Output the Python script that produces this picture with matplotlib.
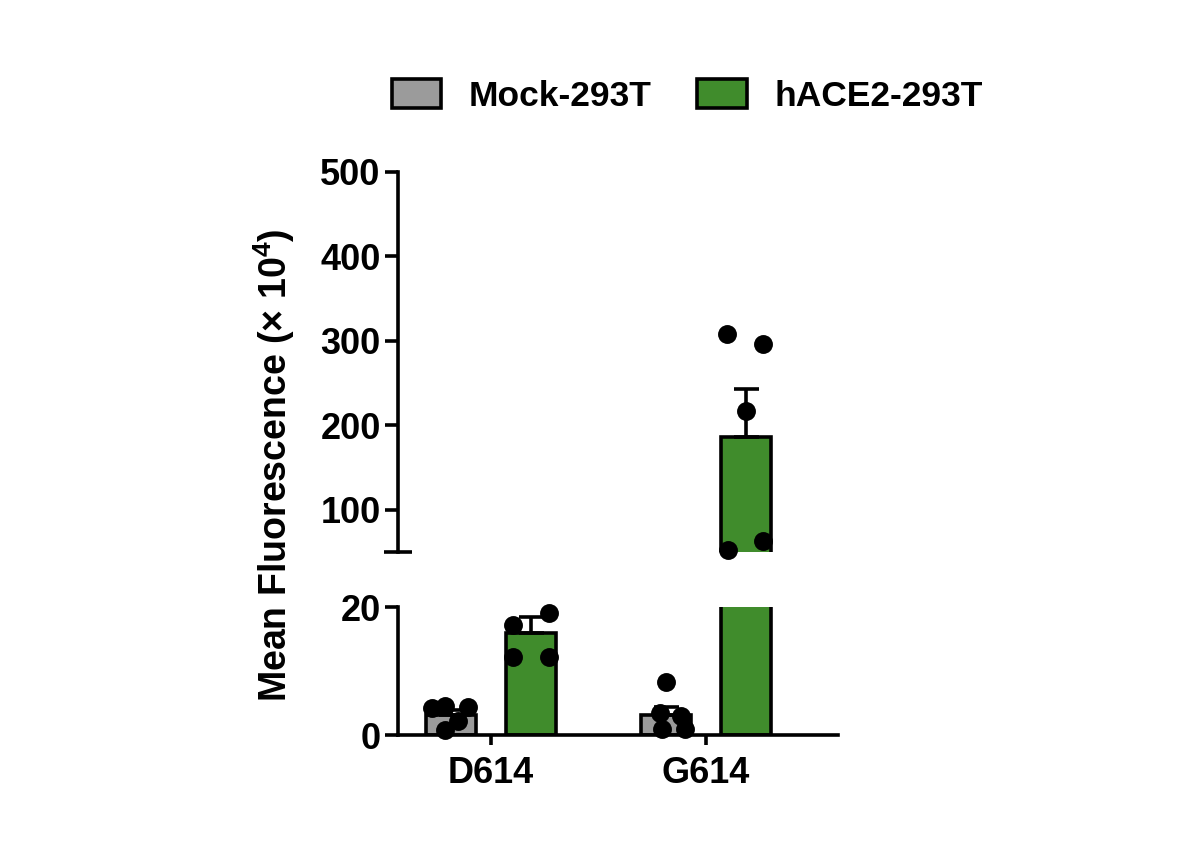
import matplotlib
matplotlib.use("Agg")
import matplotlib.pyplot as plt
import numpy as np
from matplotlib.patches import Patch

plt.rcParams['font.family'] = ['Liberation Sans', 'DejaVu Sans']
plt.rcParams['font.weight'] = 'bold'
plt.rcParams['mathtext.fontset'] = 'custom'
plt.rcParams['mathtext.rm'] = 'Liberation Sans:bold'
plt.rcParams['mathtext.bf'] = 'Liberation Sans:bold'
plt.rcParams['mathtext.default'] = 'bf'

# data (units of 10^4)
groups = ['D614', 'G614']
series = ['Mock-293T', 'hACE2-293T']
colors = ['#9b9b9b', '#408c2c']

mock_mean = [3.2, 3.1]
mock_sem = [0.7, 1.3]
ace2_mean = [16.0, 186.0]
ace2_sem = [2.4, 57.0]

mock_pts = [[4.2, 4.6, 4.3, 0.8, 2.2],
            [8.3, 3.4, 3.0, 0.9, 0.9]]
mock_jit = [[-0.088, -0.028, 0.079, -0.028, 0.033],
            [0.0, -0.03, 0.07, -0.02, 0.09]]
ace2_pts = [[17.2, 19.0, 12.2, 12.2],
            [308, 296, 217, 52, 63]]
ace2_jit = [[-0.084, 0.084, -0.084, 0.084],
            [-0.088, 0.079, 0.0, -0.084, 0.079]]

lw = 2.6
off = 0.186
bw = 0.233

fig = plt.figure(figsize=(12, 8.48), dpi=100)
ax_top = fig.add_axes([0.33167, 0.34906, 0.36667, 0.44811])
ax_bot = fig.add_axes([0.33167, 0.13325, 0.36667, 0.15094])

x = np.arange(len(groups))
means = [mock_mean, ace2_mean]
sems = [mock_sem, ace2_sem]
pts = [mock_pts, ace2_pts]
jit = [mock_jit, ace2_jit]

for ax, lo, hi in [(ax_top, 50, 500), (ax_bot, 0, 20)]:
    for s in range(2):
        xs = x + (-off if s == 0 else off)
        ax.bar(xs, means[s], bw, color=colors[s], edgecolor='black',
               linewidth=lw, zorder=2)
        ax.errorbar(xs, means[s], yerr=[np.zeros(2), sems[s]], fmt='none',
                    ecolor='black', elinewidth=lw, capsize=9, capthick=lw,
                    zorder=3)
        for g in range(2):
            for v, j in zip(pts[s][g], jit[s][g]):
                if lo <= v <= hi:
                    ax.scatter(xs[g] + j, v, s=185, color='black', zorder=4,
                               clip_on=False, linewidths=0)
    ax.set_xlim(-0.433, 1.614)
    ax.set_ylim(lo, hi)
    ax.spines['top'].set_visible(False)
    ax.spines['right'].set_visible(False)
    ax.spines['left'].set_linewidth(lw)
    ax.spines['bottom'].set_linewidth(lw)
    ax.tick_params(axis='y', direction='out', length=9.5, width=lw,
                   labelsize=26, pad=3)
    ax.tick_params(axis='y', which='minor', direction='inout', length=19.5,
                   width=lw)

ax_top.spines['bottom'].set_visible(False)
ax_top.set_xticks([])
ax_top.set_yticks([100, 200, 300, 400, 500])
ax_top.set_yticks([50], minor=True)

ax_bot.set_yticks([0, 20])
ax_bot.set_yticks([20], minor=True)
ax_bot.set_xticks(x)
ax_bot.set_xticklabels(groups)
ax_bot.tick_params(axis='x', direction='out', length=7, width=lw,
                   labelsize=26, pad=8)

fig.text(0.2283, 0.4517, r'Mean Fluorescence (× 10$^{4}$)', rotation=90,
         ha='center', va='center', fontsize=27, fontweight='bold')

handles = [Patch(facecolor=c, edgecolor='black', linewidth=lw) for c in colors]
fig.legend(handles, series, loc='center', bbox_to_anchor=(0.5725, 0.887),
           ncol=2, frameon=False, fontsize=25.5, handlelength=1.41,
           handleheight=0.9, handletextpad=0.76, columnspacing=1.3)

fig.savefig('out.png', dpi=100)
